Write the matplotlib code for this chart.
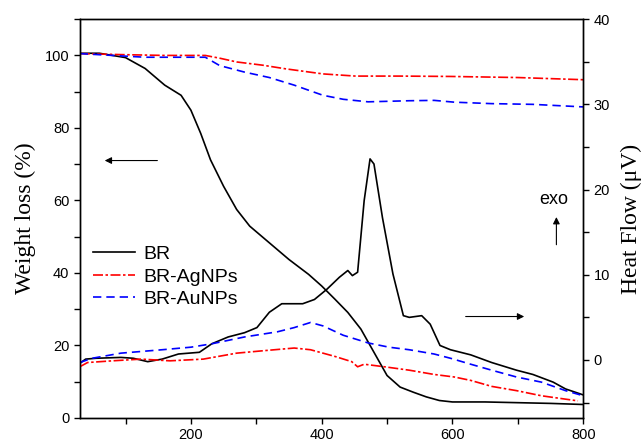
import numpy as np
import matplotlib.pyplot as plt
from matplotlib.ticker import MultipleLocator

# TGA curves (left axis, weight loss %)
t_br = [30, 60, 100, 130, 160, 185, 200, 215, 230, 250, 270, 290, 320, 350, 380, 400,
        420, 440, 460, 480, 500, 520, 540, 560, 580, 600, 650, 700, 750, 800]
w_br = [100.6, 100.6, 99.4, 96.4, 91.8, 89.0, 84.9, 78.5, 71.2, 63.9, 57.5, 52.9, 48.3,
        43.7, 39.6, 36.4, 32.8, 29.1, 24.5, 18.1, 11.7, 8.5, 7.1, 5.8, 4.8, 4.4, 4.4,
        4.2, 4.0, 3.7]

t_ag = [30, 100, 160, 222, 245, 270, 310, 345, 402, 452, 520, 597, 700, 800]
w_ag = [100.5, 100.2, 100.0, 100.0, 99.2, 98.2, 97.3, 96.3, 94.9, 94.3, 94.3, 94.2,
        93.9, 93.3]

t_au = [30, 80, 130, 180, 222, 244, 282, 320, 358, 402, 433, 471, 534, 572, 603,
        660, 723, 800]
w_au = [100.5, 100.0, 99.5, 99.5, 99.5, 97.2, 95.4, 93.9, 91.8, 89.0, 87.9, 87.2,
        87.5, 87.6, 87.1, 86.7, 86.5, 85.8]

# DTA curves (right axis, heat flow uV)
d_br_t = [30, 39, 55, 93, 112, 134, 156, 181, 213, 232, 257, 282, 301, 320, 339, 371,
          389, 408, 427, 440, 447, 455, 465, 474, 480, 493, 509, 525, 534, 553, 566,
          581, 597, 628, 660, 698, 723, 754, 773, 800]
d_br = [-0.4, 0.1, 0.2, 0.3, 0.2, -0.2, 0.1, 0.7, 0.9, 1.9, 2.7, 3.2, 3.8, 5.6, 6.6,
        6.6, 7.1, 8.3, 9.7, 10.5, 9.9, 10.3, 18.7, 23.6, 23.0, 16.7, 10.1, 5.2, 5.0,
        5.2, 4.2, 1.7, 1.2, 0.6, -0.3, -1.2, -1.7, -2.6, -3.4, -4.1]

d_ag_t = [30, 42, 80, 124, 168, 219, 270, 313, 358, 383, 421, 446, 455, 465, 496, 534,
          572, 603, 628, 660, 698, 736, 773, 792]
d_ag = [-0.8, -0.3, -0.1, 0.1, -0.1, 0.1, 0.8, 1.1, 1.4, 1.2, 0.4, -0.2, -0.8, -0.5,
        -0.8, -1.2, -1.7, -2.0, -2.4, -3.1, -3.6, -4.2, -4.6, -4.8]

d_au_t = [30, 49, 93, 156, 200, 232, 282, 332, 358, 383, 402, 433, 471, 503, 534, 572,
          597, 628, 660, 698, 736, 773, 800]
d_au = [-0.3, 0.2, 0.8, 1.2, 1.5, 1.9, 2.7, 3.3, 3.8, 4.4, 4.0, 2.9, 2.0, 1.5, 1.2,
        0.7, 0.2, -0.5, -1.2, -2.0, -2.6, -3.6, -4.2]

labels = ['BR', 'BR-AgNPs', 'BR-AuNPs']

plt.rcParams['font.family'] = ['Liberation Sans', 'DejaVu Sans']

fig = plt.figure(figsize=(6.43, 4.46), dpi=100)
ax = fig.add_axes([0.124, 0.063, 0.783, 0.894])
ax2 = ax.twinx()

red_dd = (0, (6, 1.5, 1.5, 1.5))
blue_d = (0, (5, 3))

l1, = ax.plot(t_br, w_br, color='black', lw=1.2)
l2, = ax.plot(t_ag, w_ag, color='red', lw=1.2, linestyle=red_dd)
l3, = ax.plot(t_au, w_au, color='blue', lw=1.2, linestyle=blue_d)

ax2.plot(d_br_t, d_br, color='black', lw=1.2)
ax2.plot(d_ag_t, d_ag, color='red', lw=1.2, linestyle=red_dd)
ax2.plot(d_au_t, d_au, color='blue', lw=1.2, linestyle=blue_d)

ax.set_xlim(30, 800)
ax.set_ylim(0, 110)
ax2.set_ylim(-6.8, 40)

ax.xaxis.set_major_locator(MultipleLocator(200))
ax.xaxis.set_minor_locator(MultipleLocator(100))
ax.yaxis.set_major_locator(MultipleLocator(20))
ax.yaxis.set_minor_locator(MultipleLocator(10))
ax2.yaxis.set_major_locator(MultipleLocator(10))
ax2.yaxis.set_minor_locator(MultipleLocator(5))

for a in (ax, ax2):
    a.tick_params(which='both', direction='out', length=4, width=1, labelsize=10.5)
    for s in a.spines.values():
        s.set_linewidth(1)

ax.set_ylabel('Weight loss (%)', family='Liberation Serif', fontsize=17, labelpad=6)
ax2.set_ylabel('Heat Flow (\u03bcV)', family='Liberation Serif', fontsize=17, labelpad=8)

# arrows and annotation
ax.annotate('', xy=(64, 71), xytext=(153, 71),
            arrowprops=dict(arrowstyle='-|>', color='black', lw=0.8, mutation_scale=10))
ax2.annotate('', xy=(714, 5.1), xytext=(616, 5.1),
             arrowprops=dict(arrowstyle='-|>', color='black', lw=0.8, mutation_scale=10))
ax2.annotate('', xy=(759, 17.1), xytext=(759, 13.2),
             arrowprops=dict(arrowstyle='-|>', color='black', lw=0.8, mutation_scale=10))
ax2.text(755, 18.8, 'exo', fontsize=13, ha='center', va='center')

ax.legend([l1, l2, l3], labels, loc='upper left', bbox_to_anchor=(0.01, 0.452),
          frameon=False, fontsize=14, handlelength=2.2, handletextpad=0.4,
          labelspacing=0.25, borderaxespad=0)

fig.savefig('out.png', dpi=100)
